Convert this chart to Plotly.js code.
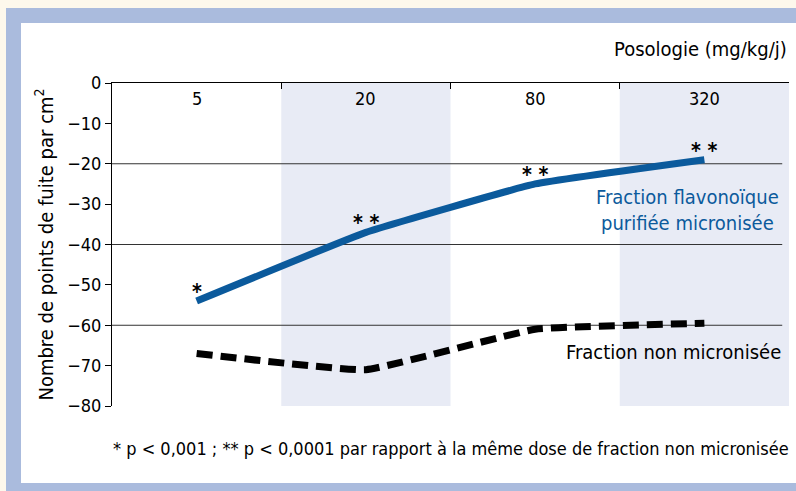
<!DOCTYPE html>
<html>
<head>
<meta charset="utf-8">
<script src="https://cdn.plot.ly/plotly-3.0.1.min.js"></script>
<style>
  html, body { margin: 0; padding: 0; width: 796px; height: 491px; overflow: hidden; background: #fdf8ec; }
  #frame { position: absolute; left: 6px; top: 8px; width: 790px; height: 483px; background: #aabbdd; }
  #panel { position: absolute; left: 21px; top: 23px; width: 775px; height: 460px; background: #ffffff; }
  #chart { position: absolute; left: 0; top: 0; width: 796px; height: 491px; }
</style>
</head>
<body>
<div id="frame"></div>
<div id="panel"></div>
<div id="chart"></div>
<script>
// Data
const categories = ['5', '20', '80', '320'];
const micronisee = [-54, -37, -25, -19];
const nonMicronisee = [-67, -71, -61, -59.5];
const significance = ['*', '* *', '* *', '* *'];
const shadedCategories = ['20', '320'];
const gridValues = [-20, -40, -60];
const yTicks = [0, -10, -20, -30, -40, -50, -60, -70, -80];

const FONT = '"Liberation Sans Narrow", "DejaVu Sans Condensed", "Liberation Sans", sans-serif';
const BLUE = '#0b5a9c';

const traces = [
  {
    x: categories, y: micronisee, type: 'scatter', mode: 'lines',
    line: { color: BLUE, width: 7, shape: 'spline', smoothing: 0.3 },
    hoverinfo: 'skip', showlegend: false
  },
  {
    x: categories, y: nonMicronisee, type: 'scatter', mode: 'lines',
    line: { color: '#000000', width: 7, dash: '16px,8px', shape: 'spline', smoothing: 0.3 },
    hoverinfo: 'skip', showlegend: false
  }
];

const shapes = [];
shadedCategories.forEach(c => {
  const i = categories.indexOf(c);
  shapes.push({ type: 'rect', xref: 'x', yref: 'y', x0: i - 0.5, x1: i + 0.5, y0: -80, y1: 0,
    fillcolor: '#e8ebf5', line: { width: 0 }, layer: 'below' });
});
gridValues.forEach(v => {
  shapes.push({ type: 'line', xref: 'x', yref: 'y', x0: -0.5, x1: categories.length - 0.54, y0: v, y1: v,
    line: { color: '#333333', width: 1 }, layer: 'below' });
});

const annotations = [];
categories.forEach((c, i) => {
  // category label just below the top axis line
  annotations.push({ x: i, y: 0, xref: 'x', yref: 'y', text: c, yanchor: 'top', yshift: -3,
    showarrow: false, font: { family: FONT, size: 18, color: '#000' } });
  // significance marks
  annotations.push({ x: i, y: micronisee[i], xref: 'x', yref: 'y', text: '<b>' + significance[i] + '</b>',
    showarrow: false, yshift: 9, font: { family: FONT, size: 21, color: '#000' } });
});
annotations.push({ x: 2.9, y: -31.5, xref: 'x', yref: 'y', text: 'Fraction flavonoïque<br>purifiée micronisée',
  showarrow: false, align: 'center', font: { family: FONT, size: 20, color: BLUE } });
annotations.push({ x: 2.82, y: -66.7, xref: 'x', yref: 'y', text: 'Fraction non micronisée',
  showarrow: false, font: { family: FONT, size: 20, color: '#000' } });
annotations.push({ x: 1, y: 1, xref: 'paper', yref: 'paper', xanchor: 'right', yanchor: 'middle', yshift: 34,
  text: 'Posologie (mg/kg/j)', showarrow: false, font: { family: FONT, size: 20, color: '#000' } });
annotations.push({ x: 0.5, y: 0, xref: 'paper', yref: 'paper', xanchor: 'center', yanchor: 'middle', yshift: -42,
  text: '* p &lt; 0,001 ; ** p &lt; 0,0001 par rapport à la même dose de fraction non micronisée',
  showarrow: false, font: { family: FONT, size: 18, color: '#000' } });

const layout = {
  width: 796, height: 491,
  margin: { l: 112, r: 7, t: 83, b: 85 },
  paper_bgcolor: 'rgba(0,0,0,0)', plot_bgcolor: 'rgba(0,0,0,0)',
  font: { family: FONT, size: 18, color: '#000' },
  xaxis: {
    type: 'category', side: 'top', range: [-0.5, 3.5],
    tickson: 'boundaries', ticks: 'inside', ticklen: 6, tickcolor: '#000',
    showticklabels: false,
    showline: true, linecolor: '#000', linewidth: 1, showgrid: false, zeroline: false,
    fixedrange: true
  },
  yaxis: {
    range: [-80, 0], tickvals: yTicks, ticks: 'outside', ticklen: 6, tickcolor: '#000',
    showline: true, linecolor: '#000', linewidth: 1, showgrid: false, zeroline: false,
    tickfont: { family: FONT, size: 18, color: '#000' },
    title: { text: 'Nombre de points de fuite par cm<sup>2</sup>', font: { family: FONT, size: 20, color: '#000' }, standoff: 8 },
    fixedrange: true
  },
  shapes: shapes,
  annotations: annotations
};

Plotly.newPlot('chart', traces, layout, { displayModeBar: false, staticPlot: true });
</script>
</body>
</html>
